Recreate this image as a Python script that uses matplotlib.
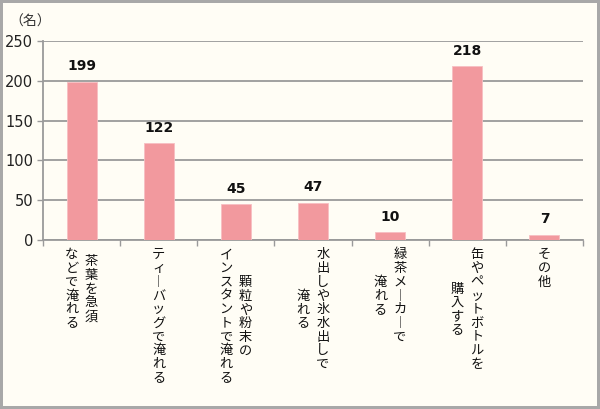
import matplotlib
matplotlib.use("Agg")
import matplotlib.pyplot as plt
import numpy as np

# 緑茶の飲み方 (人数)
categories = [
    "茶葉を急須\nなどで淹れる",
    "ティーバッグで淹れる",
    "顆粒や粉末の\nインスタントで淹れる",
    "水出しや氷水出しで\n淹れる",
    "緑茶メーカーで\n淹れる",
    "缶やペットボトルを\n購入する",
    "その他",
]
values = [199, 122, 45, 47, 10, 218, 7]
yticks = [0, 50, 100, 150, 200, 250]
unit_label = "（名）"

bg = "#FFFDF5"
bar_color = "#F2999E"
grid_color = "#9A9A9A"
jp_font = ["Noto Sans CJK JP", "DejaVu Sans"]

fig = plt.figure(figsize=(6.0, 4.09), dpi=100, facecolor=bg)
fig.patch.set_edgecolor("#A8A8A8")
fig.patch.set_linewidth(3)
ax = fig.add_axes([0.0717, 0.413, 0.90, 0.487])
ax.set_facecolor(bg)

x = np.arange(len(values))
ax.bar(x, values, width=0.39, color=bar_color, edgecolor="#F7BFC2", linewidth=0.6, zorder=3)

for xi, v in zip(x, values):
    ax.annotate(str(v), (xi, v), xytext=(0, 6), textcoords="offset points",
                ha="center", va="bottom", fontsize=10, fontweight="bold",
                color="#111111", zorder=4)

ax.set_xlim(-0.5, len(values) - 0.5)
ax.set_ylim(0, 250)
ax.set_yticks(yticks)
ax.set_yticklabels([str(t) for t in yticks], fontsize=10.5, color="#222222")
ax.yaxis.grid(True, color=grid_color, linewidth=1.3, zorder=0)
ax.tick_params(axis="y", length=4, width=1.0, color=grid_color, pad=3)

# 区切りの目盛り
ax.set_xticks(np.arange(len(values) + 1) - 0.5)
ax.set_xticklabels([])
ax.tick_params(axis="x", length=4, width=1.0, color=grid_color, direction="out")

for s in ["top", "right"]:
    ax.spines[s].set_visible(False)
for s in ["left", "bottom"]:
    ax.spines[s].set_color(grid_color)
    ax.spines[s].set_linewidth(1.3)

# 縦書きラベル (右の列から左へ)
pitch = 10.0   # 一文字の高さ (pt)
col_gap = 14.0  # 列の間隔 (pt)
for xi, lab in zip(x, categories):
    cols = [c.replace("ー", "︱") for c in lab.split("\n")]
    m = max(len(c) for c in cols)
    n = len(cols)
    for j, col in enumerate(cols):
        dx = ((n - 1) / 2 - j) * col_gap
        dy = -6 - (m - len(col)) / 2 * pitch
        ax.annotate("\n".join(col), (xi, 0), xycoords=("data", "axes fraction"),
                    xytext=(dx, dy), textcoords="offset points",
                    ha="center", va="top", fontsize=9.5, family=jp_font,
                    linespacing=1.07, color="#111111")

fig.text(0.05, 0.948, unit_label, fontsize=10, family=jp_font, color="#333333",
         ha="center", va="center")

fig.savefig("out.png", dpi=100, facecolor=bg)
